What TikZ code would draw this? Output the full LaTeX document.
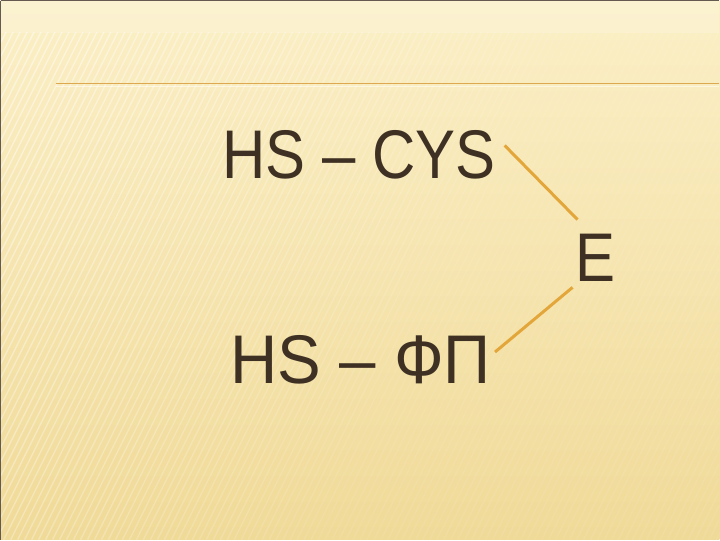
\documentclass[tikz,border=0pt]{standalone}
\usepackage{fontspec}
\setmainfont[FakeStretch=0.87]{Liberation Sans}
\newfontfamily\widefont[FakeStretch=0.95]{Liberation Sans}
\usetikzlibrary{positioning}
\definecolor{papertop}{HTML}{FBEFC6}
\definecolor{paperbot}{HTML}{F0DA98}
\definecolor{ink}{HTML}{3E3124}
\definecolor{rulecol}{HTML}{DCA850}
\definecolor{linkcol}{HTML}{E3A63A}

\begin{document}
\begin{tikzpicture}[x=1pt,y=-1pt,
  word/.style={text=ink,font=\fontsize{69}{69}\selectfont,inner sep=0pt,anchor=base west},
  link/.style={draw=linkcol,line width=3pt}]

\def\slide{(0,0) rectangle (720,540)}
\def\stripes{(0,32) rectangle (720,540)}

% paper and stripes
\shade[top color=papertop,bottom color=paperbot] \slide;
\fill[white,opacity=0.2] (0,0) rectangle (720,32);
\scope
    \clip \stripes;
    \foreach \i in {0,7,...,1000}{
      \pgfmathsetmacro\op{max(0.08,0.5-\i/1400)}
      \draw[white,opacity=\op,line width=1.4pt] (\i-270,540) -- (\i,0);
    }
\endscope

% rule and frame
\draw[rulecol,line width=1.5pt] (55,83) -- (720,83);
\draw[white,opacity=0.5,line width=1pt] (55,85.5) -- (720,85.5);
\draw[ink!80,line width=1.5pt] (0,0) -- (720,0) (0,0) -- (0,540);

% words
\node[word] (cys) at (222,178) {HS – CYS};
\node[word,font=\widefont\fontsize{69}{69}\selectfont] (fp) at (230,384) {HS – ФП};
\node[word] (e) at (576,281) {E};

% links
\draw[link] ([shift={(9,-33)}]cys.base east) -- ([shift={(2,-14)}]e.north west);
\draw[link] ([shift={(4,-32)}]fp.base east) -- ([shift={(-3,6)}]e.south west);

\end{tikzpicture}
\end{document}
